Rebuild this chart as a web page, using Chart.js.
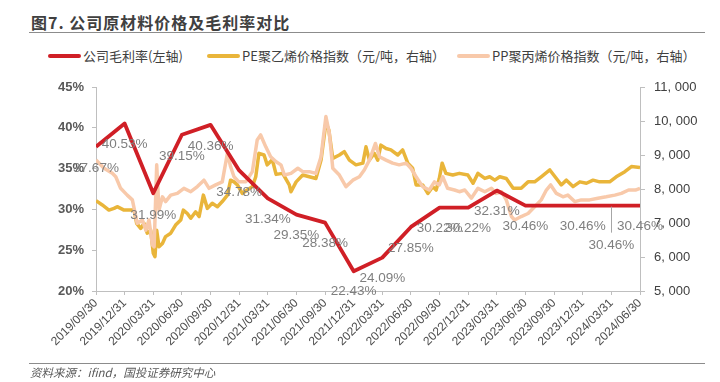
<!DOCTYPE html>
<html>
<head>
<meta charset="utf-8">
<script src="https://cdn.jsdelivr.net/npm/chart.js@4"></script>
<style>
  body { margin: 0; background: #fff; }
  #wrap { position: relative; width: 720px; height: 382px; overflow: hidden; font-family: "Noto Sans CJK SC", sans-serif; }
  #chart { position: absolute; left: 0; top: 0; }
  .title { position: absolute; left: 31px; top: 10px; font-size: 16px; font-weight: bold; color: #404040; letter-spacing: 1px; }
  .rule { position: absolute; left: 29px; width: 676px; height: 0; border-top: 1.5px solid #8c8c8c; }
  .legend { position: absolute; top: 46px; font-size: 13px; color: #404040; white-space: nowrap; }
  .legend i { display: inline-block; width: 33px; height: 4px; border-radius: 2px; vertical-align: middle; margin-right: 2px; position: relative; top: -1px; }
  .source { position: absolute; left: 30px; top: 364px; font-size: 11.5px; color: #595959; font-style: italic; }
</style>
</head>
<body>
<div id="wrap">
  <div class="title">图7. 公司原材料价格及毛利率对比</div>
  <div class="rule" style="top:32px"></div>
  <div class="legend" style="left:48px"><i style="background:#d01f26"></i>公司毛利率(左轴)</div>
  <div class="legend" style="left:207px"><i style="background:#e9b53a"></i>PE聚乙烯价格指数（元/吨，右轴）</div>
  <div class="legend" style="left:457px"><i style="background:#f8c9aa"></i>PP聚丙烯价格指数（元/吨，右轴）</div>
  <canvas id="chart" width="720" height="382"></canvas>
  <div class="rule" style="top:363px"></div>
  <div class="source">资料来源：ifind，国投证券研究中心</div>
</div>
<script>
// quarter end dates (x axis)
const quarters = ["2019/09/30", "2019/12/31", "2020/03/31", "2020/06/30", "2020/09/30",
  "2020/12/31", "2021/03/31", "2021/06/30", "2021/09/30", "2021/12/31",
  "2022/03/31", "2022/06/30", "2022/09/30", "2022/12/31", "2023/03/31",
  "2023/06/30", "2023/09/30", "2023/12/31", "2024/03/31", "2024/06/30"];

// gross margin, %
const marginRate = [37.67, 40.53, 31.99, 39.15, 40.36, 34.78, 31.34, 29.35, 28.38, 22.43,
  24.09, 27.85, 30.22, 30.22, 32.31, 30.46, 30.46, 30.46, 30.46, 30.46];

// PE price index, position in quarters from 2019/09/30
const pePos = [0, 0.22, 0.45, 0.63, 0.74, 0.98, 1.33, 1.42, 1.56, 1.68, 1.79, 1.91, 2.0, 2.06, 2.12,
  2.2, 2.32, 2.43, 2.61, 2.78, 2.96, 3.05, 3.19, 3.31, 3.48, 3.6, 3.75, 3.89, 4.06, 4.24,
  4.41, 4.59, 4.7, 4.82, 4.94, 5.11, 5.28, 5.46, 5.58, 5.69, 5.87, 5.98, 6.16, 6.29, 6.52,
  6.75, 6.81, 6.99, 7.22, 7.45, 7.68, 7.86, 8.03, 8.13, 8.27, 8.5, 8.67, 8.85, 9.08, 9.32,
  9.43, 9.55, 9.72, 9.84, 9.95, 10.13, 10.3, 10.54, 10.71, 10.89, 11.06, 11.18, 11.41, 11.59, 11.76,
  11.88, 11.99, 12.09, 12.22, 12.46, 12.69, 12.99, 13.17, 13.34, 13.58, 13.75, 13.93, 14.1, 14.33, 14.57,
  14.85, 15.09, 15.32, 15.55, 15.85, 16.08, 16.25, 16.43, 16.66, 16.9, 17.13, 17.36, 17.59, 17.94, 18.17,
  18.47, 18.7, 19.0];
const peValue = [7656, 7530, 7380, 7430, 7480, 7380, 7380, 6990, 6840, 6990, 6700, 6790, 6110, 6010, 6790,
  6300, 6400, 6600, 6700, 6940, 7090, 7380, 7280, 7140, 7330, 7190, 7820, 7430, 7580, 7480,
  7630, 7820, 8260, 8210, 8120, 7870, 7970, 8070, 8360, 9050, 9000, 8710, 8860, 8430, 8460,
  8120, 7920, 8210, 8410, 8360, 8310, 8850, 9950, 9740, 8900, 9000, 9100, 8850, 8710, 8760,
  9240, 8850, 9050, 8850, 9290, 9190, 9150, 9000, 9150, 8760, 8610, 8120, 8120, 7870, 8070,
  7970, 8310, 8760, 8460, 8410, 8460, 8410, 8170, 8460, 8310, 8360, 8260, 8360, 8310, 8020,
  8020, 8210, 8210, 8360, 8560, 8310, 8120, 8260, 8070, 8210, 8170, 8260, 8210, 8210, 8360,
  8510, 8660, 8630];

// PP price index
const ppPos = [0, 0.28, 0.57, 0.69, 0.86, 1.09, 1.27, 1.44, 1.62, 1.74, 1.85, 1.97, 2.03, 2.12, 2.2,
  2.32, 2.43, 2.61, 2.84, 3.07, 3.31, 3.54, 3.77, 3.95, 4.18, 4.41, 4.59, 4.7, 4.82, 4.99,
  5.23, 5.46, 5.63, 5.75, 5.93, 6.1, 6.29, 6.46, 6.58, 6.81, 7.05, 7.22, 7.45, 7.68, 7.86,
  8.03, 8.15, 8.27, 8.5, 8.73, 8.97, 9.2, 9.37, 9.55, 9.76, 9.9, 10.13, 10.36, 10.59, 10.83,
  11.0, 11.18, 11.41, 11.64, 11.82, 11.99, 12.11, 12.28, 12.52, 12.69, 12.88, 13.11, 13.34, 13.58, 13.81,
  13.98, 14.16, 14.33, 14.51, 14.62, 14.85, 15.09, 15.32, 15.55, 15.73, 15.88, 16.08, 16.31, 16.48, 16.72,
  16.95, 17.24, 17.53, 17.82, 18.12, 18.35, 18.6, 18.84, 19.0];
const ppValue = [8850, 8610, 8460, 8360, 8020, 7820, 7680, 6990, 7090, 6790, 7090, 6350, 6300, 8710, 7380,
  7770, 7630, 7820, 7870, 8020, 7920, 8070, 8260, 8020, 8120, 8210, 9050, 8660, 8360, 8210,
  8210, 8510, 9440, 9590, 9240, 8950, 8800, 8710, 8410, 8460, 8610, 8510, 8510, 8460, 8950,
  10130, 9640, 8610, 8410, 8070, 8260, 8360, 8560, 8850, 9340, 8950, 8850, 8760, 8710, 8760,
  8610, 8360, 8070, 7970, 8210, 8120, 8360, 8020, 7970, 7920, 7970, 7730, 8020, 7920, 8020,
  7870, 7920, 7680, 7190, 7090, 7190, 7280, 7480, 7680, 7970, 8120, 7870, 7770, 7820, 7630,
  7680, 7680, 7730, 7770, 7820, 7870, 7970, 7970, 8020];

// where each margin label sits below its point (px), null = hidden behind a neighbour
const labelDy = [21, 21, 22, 22, 21, 22, 21, 21, 21, 20, 21, 21, 21, 21, 21, 21, null, 21, 40, 21];

Chart.defaults.font.family = '"Liberation Sans", Arial, sans-serif';

const rateLabels = {
  id: "rateLabels",
  afterDatasetsDraw(chart) {
    const ctx = chart.ctx;
    const meta = chart.getDatasetMeta(0);
    ctx.save();
    ctx.font = '13.5px "Liberation Sans", Arial, sans-serif';
    ctx.fillStyle = "#7f7f7f";
    ctx.textAlign = "center";
    ctx.textBaseline = "middle";
    meta.data.forEach(function (pt, i) {
      const dy = labelDy[i];
      if (dy == null) return;
      if (dy > 30) {
        // leader line
        ctx.strokeStyle = "#a6a6a6";
        ctx.lineWidth = 1;
        ctx.beginPath();
        ctx.moveTo(Math.round(pt.x) + 0.5, pt.y + 1);
        ctx.lineTo(Math.round(pt.x) + 0.5, pt.y + dy - 13);
        ctx.stroke();
      }
      ctx.fillText(marginRate[i].toFixed(2) + "%", pt.x, pt.y + dy);
    });
    ctx.restore();
  },
};

const ctx = document.getElementById("chart");
new Chart(ctx, {
  type: "line",
  data: {
    datasets: [
      {
        label: "公司毛利率(左轴)",
        data: marginRate.map((v, i) => ({ x: i, y: v })),
        borderColor: "#d01f26",
        borderWidth: 3.8,
        yAxisID: "y",
        order: 0,
      },
      {
        label: "PE聚乙烯价格指数（元/吨，右轴）",
        data: pePos.map((p, i) => ({ x: p, y: peValue[i] })),
        borderColor: "#e9b53a",
        borderWidth: 3.5,
        yAxisID: "y1",
        order: 2,
      },
      {
        label: "PP聚丙烯价格指数（元/吨，右轴）",
        data: ppPos.map((p, i) => ({ x: p, y: ppValue[i] })),
        borderColor: "#f8c9aa",
        borderWidth: 3.5,
        yAxisID: "y1",
        order: 1,
      },
    ],
  },
  options: {
    responsive: false,
    animation: false,
    devicePixelRatio: 1,
    elements: { point: { radius: 0 }, line: { tension: 0, borderJoinStyle: "round" } },
    layout: { padding: { top: 87, left: 0, right: 0, bottom: 0 } },
    plugins: { legend: { display: false }, tooltip: { enabled: false } },
    scales: {
      x: {
        type: "linear",
        min: 0,
        max: 19,
        afterFit: function (s) { s.height = 91; },
        grid: { drawOnChartArea: false, tickLength: 4, color: "#bfbfbf" },
        border: { color: "#bfbfbf" },
        ticks: {
          stepSize: 1,
          autoSkip: false,
          minRotation: 45,
          maxRotation: 45,
          padding: 1,
          color: "#4d4d4d",
          font: { size: 12 },
          callback: function (v) { return quarters[v]; },
        },
      },
      y: {
        position: "left",
        min: 20,
        max: 45,
        afterFit: function (s) { s.width = 96; },
        grid: { drawOnChartArea: false, tickLength: 4, color: "#bfbfbf" },
        border: { color: "#bfbfbf" },
        ticks: {
          stepSize: 5,
          padding: 8,
          color: "#595959",
          font: { size: 13, weight: "bold" },
          callback: function (v) { return v + "%"; },
        },
      },
      y1: {
        position: "right",
        min: 5000,
        max: 11000,
        afterFit: function (s) { s.width = 80; },
        grid: { drawOnChartArea: false, tickLength: 5, color: "#bfbfbf" },
        border: { color: "#bfbfbf" },
        ticks: {
          stepSize: 1000,
          padding: 9,
          color: "#404040",
          font: { size: 13 },
          callback: function (v) {
            const s = String(v);
            return s.slice(0, s.length - 3) + ", " + s.slice(-3);
          },
        },
      },
    },
  },
  plugins: [rateLabels],
});
</script>
</body>
</html>
